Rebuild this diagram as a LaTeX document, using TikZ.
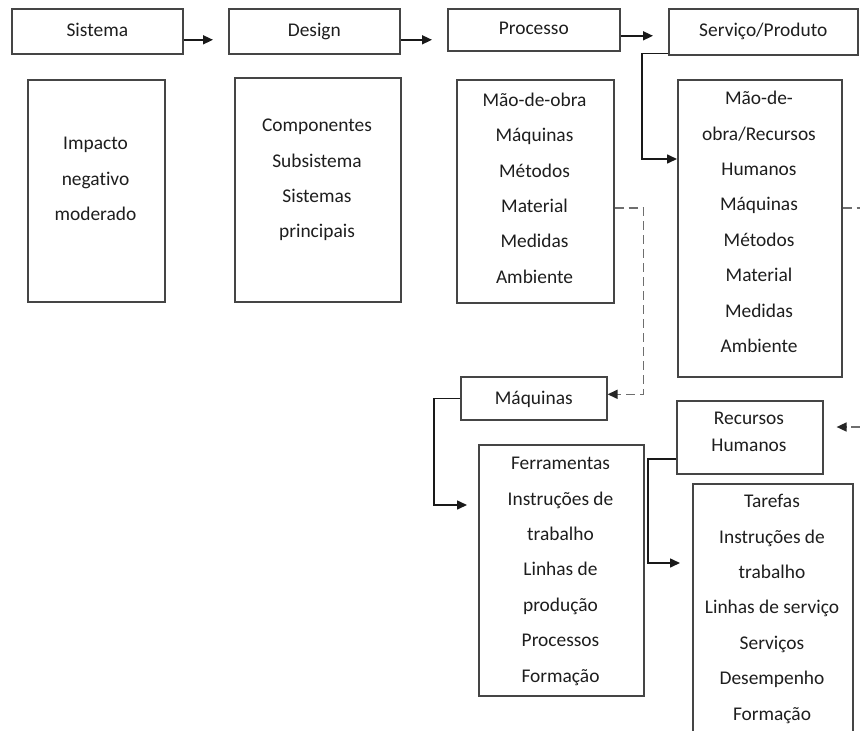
\documentclass[tikz,border=0pt]{standalone}
\usepackage{fontspec}
\setmainfont{Carlito}[Ligatures=NoCommon]
\usetikzlibrary{arrows.meta}
\definecolor{boxline}{HTML}{454545}
\definecolor{ink}{HTML}{1E1E1E}
\definecolor{dashgray}{HTML}{6E6E6E}
% strut that fixes the height of the first line of a stacked list
\newcommand{\firstln}{\rule{0pt}{15pt}}

\begin{document}
\begin{tikzpicture}[x=1pt,y=-1pt,
  font=\fontsize{19.4}{35.4}\selectfont, text=ink,
  box/.style={draw=boxline, line width=1.6pt, inner sep=0pt, anchor=north west},
  title/.style={text height=14pt, text depth=4pt},
  lines/.style={align=center, anchor=north, inner sep=0pt},
  arr/.style={draw=black!90, line width=1.6pt, -{Triangle[length=10pt,width=9pt]}},
  dashlink/.style={draw=dashgray, line width=1.6pt, dash pattern=on 9pt off 5pt,
                   -{Triangle[length=10pt,width=9pt,color=black!85]}}]

\useasboundingbox (0,0) rectangle (860,731);
\clip (0,0) rectangle (860,731);
\fill[white] (0,0) rectangle (860,731);

% top row
\node[box, title, minimum width=171pt, minimum height=45pt] (sis) at (11,8) {Sistema};
\node[box, title, minimum width=171pt, minimum height=45pt] (des) at (228,8) {Design};
\node[box, title, minimum width=172pt, minimum height=42pt] (pro) at (447,8) {Processo};
\node[box, title, minimum width=189pt, minimum height=46pt] (ser) at (668,8) {Serviço/Produto};

% detail boxes
\node[box, minimum width=137pt, minimum height=222pt] (sisB) at (27,79) {};
\node[box, minimum width=166pt, minimum height=224pt] (desB) at (234,77) {};
\node[box, minimum width=157pt, minimum height=223pt] (proB) at (456,79) {};
\node[box, minimum width=164pt, minimum height=297pt] (serB) at (677,79) {};

\node[lines] (sisT) at (95.5,134.5) {\firstln Impacto\\negativo\\moderado};
\node[lines] (desT) at (317,116.5) {\firstln Componentes\\Subsistema\\Sistemas\\principais};
\node[lines] (proT) at (534.5,91) {\firstln Mão-de-obra\\Máquinas\\Métodos\\Material\\Medidas\\Ambiente};
\node[lines] (serT) at (759,89.5) {\firstln Mão-de-\\obra/Recursos\\Humanos\\Máquinas\\Métodos\\Material\\Medidas\\Ambiente};

% lower branch: machines
\node[box, text height=16pt, text depth=3pt, minimum width=146pt, minimum height=43pt] (maq) at (460,376) {Máquinas};
\node[box, minimum width=165pt, minimum height=251pt] (ferB) at (478,444) {};
\node[lines] (ferT) at (560.5,454.5) {\firstln Ferramentas\\Instruções de\\trabalho\\Linhas de\\produção\\Processos\\Formação};

% lower branch: human resources
\node[box, minimum width=146pt, minimum height=73pt] (rh) at (676,400) {};
\node[lines, font=\fontsize{19.4}{27}\selectfont] (rhT) at (749,409.5) {\firstln Recursos\\Humanos};
\node[box, minimum width=160pt, minimum height=270pt] (tarB) at (692,483) {};
\node[lines] (tarT) at (772,492.5) {\firstln Tarefas\\Instruções de\\trabalho\\Linhas de serviço\\Serviços\\Desempenho\\Formação};

\coordinate (farR) at (868,0);

% connectors
\draw[arr, shorten >=15pt] ([yshift=-8.5pt]sis.east) -- ([yshift=-8.5pt]sis.east -| des.west);
\draw[arr, shorten >=15pt] ([yshift=-8.5pt]des.east) -- ([yshift=-8.5pt]des.east -| pro.west);
\draw[arr, shorten >=15pt] ([yshift=-6pt]pro.east) -- ([yshift=-6pt]pro.east -| ser.west);
\draw[arr] ([yshift=2pt]ser.south west) -- ++(-26pt,0) |- ([yshift=-80pt]serB.north west);

\draw[dashlink] ([yshift=-129pt]proB.north east) -- ++(29pt,0) |- ([yshift=4pt]maq.east);
\draw[arr, shorten >=11pt] (maq.west) -- ++(-26pt,0) |- ([yshift=-61pt]ferB.north west);

\draw[dashlink, shorten >=13pt] ([yshift=-129pt]serB.north east)
  -- ([yshift=-129pt]serB.north east -| farR) |- ([yshift=-27pt]rh.north east);
\draw[arr, shorten >=12pt] ([yshift=-59pt]rh.north west) -- ++(-28pt,0) |- ([yshift=-80pt]tarB.north west);

\end{tikzpicture}
\end{document}
